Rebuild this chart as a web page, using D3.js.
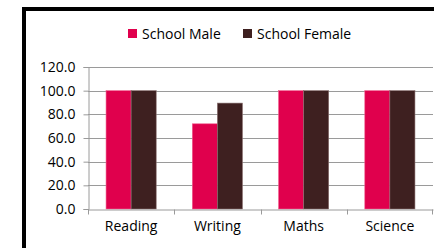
<!DOCTYPE html>
<html lang="en">
<head>
<meta charset="UTF-8">
<title>School scores</title>
<script src="https://cdn.jsdelivr.net/npm/d3@7.9.0/dist/d3.min.js"></script>
<style>
    html, body { margin: 0; padding: 0; background: #fff; overflow: hidden; }
    svg { display: block; overflow: hidden; }
    svg text { font-family: "Open Sans", sans-serif; fill: #000; }
</style>
</head>
<body>
<svg id="chart" width="434" height="248"></svg>
<script>
// chart data
const subjects = ['Reading', 'Writing', 'Maths', 'Science'];
const seriesNames = ['School Male', 'School Female'];
const maleValues = [100, 72, 100, 100];
const femaleValues = [100, 89.5, 100, 100];
const yTicks = [0, 20, 40, 60, 80, 100, 120];

const colors = ['#e0004d', '#3e2020'];
const edges = ['#f06090', '#8a7070'];

let svg = d3.select('#chart');

// outer frame: only the top and left edges fall inside the crop
svg.append('path')
    .attr('d', 'M24,248V9H434')
    .attr('fill', 'none')
    .attr('stroke', '#000')
    .attr('stroke-width', 4);

let margin = { left: 88, right: 1, top: 67, bottom: 39 };
let width = 434 - margin.left - margin.right;
let height = 248 - margin.top - margin.bottom;

let g = svg.append('g').attr('transform', `translate(${margin.left},${margin.top})`);

let x0 = d3.scaleBand().domain(subjects).range([0, width]).paddingInner(0).paddingOuter(0);
let x1 = d3.scaleBand().domain(seriesNames).range([0, x0.bandwidth()]).paddingOuter(0.72);
let y = d3.scaleLinear().domain([0, 120]).range([height, 0]);

// gridlines
g.append('g')
    .selectAll('line')
    .data(yTicks.slice(1))
    .enter()
    .append('line')
    .attr('x1', 0).attr('x2', width)
    .attr('y1', d => Math.round(y(d)) + 0.5)
    .attr('y2', d => Math.round(y(d)) + 0.5)
    .attr('stroke', '#9a9a9a');

// bars
let rows = subjects.map((s, i) => ({ subject: s, values: [maleValues[i], femaleValues[i]] }));
let groups = g.selectAll('.grp')
    .data(rows)
    .enter()
    .append('g')
    .attr('transform', d => `translate(${x0(d.subject)},0)`);

groups.selectAll('rect')
    .data(d => d.values.map((v, k) => ({ name: seriesNames[k], value: v, k: k })))
    .enter()
    .append('rect')
    .attr('x', d => x1(d.name))
    .attr('y', d => y(d.value))
    .attr('width', x1.bandwidth())
    .attr('height', d => height - y(d.value))
    .attr('fill', d => colors[d.k])
    .attr('stroke', d => edges[d.k])
    .attr('stroke-width', 0.6);

// y axis
let yAxis = g.append('g')
    .attr('transform', 'translate(0.5,0)')
    .call(d3.axisLeft(y).tickValues(yTicks).tickFormat(d3.format('.1f')).tickSize(5).tickPadding(8));
yAxis.select('.domain').attr('stroke', '#9a9a9a');
yAxis.selectAll('.tick line').attr('stroke', '#9a9a9a');
yAxis.selectAll('text').attr('font-size', '14px').attr('font-family', '"Open Sans", sans-serif');

// x axis
let xAxis = g.append('g')
    .attr('transform', `translate(0,${Math.round(height) + 0.5})`)
    .call(d3.axisBottom(x0).tickSize(0).tickPadding(12));
xAxis.select('.domain').attr('stroke', '#9a9a9a');
xAxis.selectAll('.tick line').remove();
xAxis.selectAll('text').attr('font-size', '14px').attr('font-family', '"Open Sans", sans-serif');

// boundary ticks between categories
xAxis.selectAll('.sep')
    .data(d3.range(subjects.length + 1))
    .enter()
    .append('line')
    .attr('x1', i => Math.round(i * x0.bandwidth()) + (i === subjects.length ? -0.5 : 0.5))
    .attr('x2', i => Math.round(i * x0.bandwidth()) + (i === subjects.length ? -0.5 : 0.5))
    .attr('y1', 0).attr('y2', 5)
    .attr('stroke', '#9a9a9a');

// legend
let legend = svg.append('g');
let legendX = [128, 243];
seriesNames.forEach((name, i) => {
    legend.append('rect')
        .attr('x', legendX[i]).attr('y', 29)
        .attr('width', 9).attr('height', 9)
        .attr('fill', colors[i]);
    legend.append('text')
        .attr('x', legendX[i] + 14).attr('y', 38.5)
        .attr('font-size', '14px')
        .text(name);
});
</script>
</body>
</html>
